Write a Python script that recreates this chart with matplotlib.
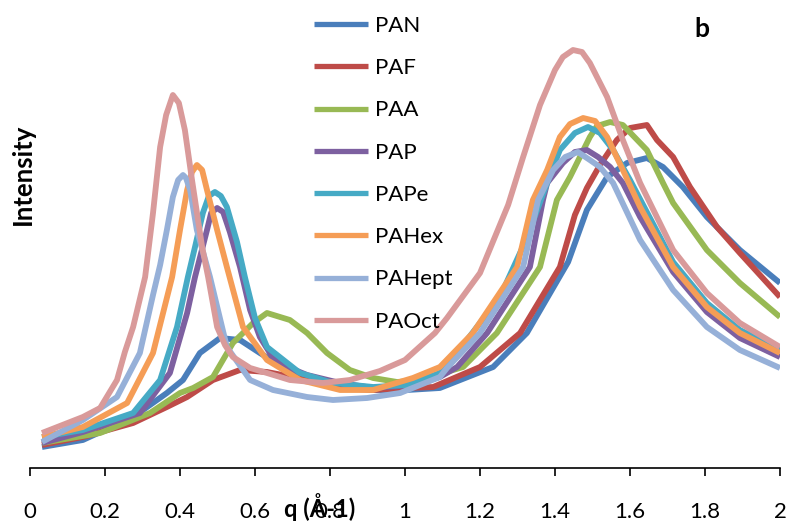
import matplotlib
matplotlib.use("Agg")
import matplotlib.pyplot as plt

plt.rcParams['font.family'] = ['Lato', 'DejaVu Sans']

series_names = ["PAN", "PAF", "PAA", "PAP", "PAPe", "PAHex", "PAHept", "PAOct"]
series_colors = ["#4A7EBB", "#BE4B48", "#98B954", "#7D60A0", "#46AAC5", "#F59D56", "#96B0D8", "#D99A9A"]

q_PAN = [0.032, 0.141, 0.275, 0.365, 0.408, 0.453, 0.507, 0.56, 0.613, 0.675, 0.739, 0.827, 0.915, 1.005,
         1.093, 1.235, 1.325, 1.435, 1.485, 1.539, 1.592, 1.645, 1.688, 1.741, 1.805, 1.893, 2.0]
I_PAN = [21, 28, 51, 75, 88, 115, 130, 128, 115, 101, 91, 81, 78, 78,
         80, 101, 135, 206, 258, 291, 305, 310, 301, 281, 251, 218, 185]

q_PAF = [0.032, 0.141, 0.275, 0.365, 0.419, 0.488, 0.56, 0.632, 0.701, 0.827, 0.915, 1.005, 1.075, 1.2,
         1.307, 1.413, 1.453, 1.485, 1.52, 1.565, 1.6, 1.645, 1.672, 1.715, 1.76, 1.832, 1.893, 2.0]
I_PAF = [23, 31, 45, 61, 71, 88, 98, 96, 91, 80, 78, 80, 81, 101,
         135, 201, 253, 280, 303, 328, 340, 343, 328, 311, 281, 241, 215, 171]

q_PAA = [0.032, 0.187, 0.32, 0.4, 0.435, 0.488, 0.541, 0.595, 0.632, 0.693, 0.739, 0.792, 0.853, 0.915,
         0.979, 1.04, 1.093, 1.155, 1.245, 1.36, 1.405, 1.44, 1.493, 1.512, 1.547, 1.581, 1.645, 1.688, 1.715,
         1.805, 1.893, 2.0]
I_PAA = [25, 35, 55, 75, 80, 91, 125, 145, 155, 148, 135, 115, 98, 90,
         86, 88, 94, 101, 135, 201, 268, 291, 331, 342, 346, 343, 318, 285, 265,
         218, 185, 151]

q_PAP = [0.032, 0.141, 0.293, 0.373, 0.419, 0.44, 0.472, 0.483, 0.499, 0.515, 0.533, 0.56, 0.587, 0.613,
         0.648, 0.693, 0.739, 0.827, 0.915, 1.021, 1.093, 1.139, 1.219, 1.333, 1.368, 1.379, 1.421, 1.453,
         1.485, 1.515, 1.547, 1.581, 1.627, 1.715, 1.805, 1.893, 2.0]
I_PAP = [25, 36, 55, 95, 155, 191, 238, 255, 260, 256, 236, 201, 158, 131,
         110, 100, 93, 85, 80, 83, 91, 101, 135, 201, 268, 285, 305, 316,
         318, 311, 301, 285, 251, 196, 156, 130, 111]

q_PAPe = [0.032, 0.141, 0.275, 0.347, 0.392, 0.421, 0.44, 0.461, 0.477, 0.493, 0.509, 0.525, 0.552, 0.573,
          0.6, 0.632, 0.72, 0.808, 0.915, 1.005, 1.093, 1.155, 1.253, 1.325, 1.379, 1.413, 1.453, 1.488,
          1.52, 1.555, 1.6, 1.635, 1.715, 1.805, 1.893, 2.0]
I_PAPe = [31, 38, 55, 88, 141, 191, 221, 255, 272, 276, 272, 261, 226, 191,
          150, 121, 95, 85, 81, 83, 95, 123, 171, 230, 285, 318, 335, 341,
          335, 318, 288, 263, 206, 165, 138, 118]

q_PAHex = [0.032, 0.141, 0.259, 0.328, 0.379, 0.4, 0.419, 0.432, 0.445, 0.459, 0.472, 0.499, 0.525, 0.568,
           0.632, 0.72, 0.827, 0.915, 1.021, 1.093, 1.181, 1.299, 1.341, 1.379, 1.413, 1.44, 1.475, 1.507,
           1.539, 1.581, 1.627, 1.715, 1.805, 1.893, 2.0]
I_PAHex = [31, 41, 65, 115, 191, 238, 278, 296, 303, 298, 278, 238, 201, 141,
           108, 88, 78, 78, 90, 101, 135, 201, 268, 298, 331, 344, 350, 347,
           331, 298, 261, 201, 161, 135, 115]

q_PAHept = [0.032, 0.141, 0.232, 0.293, 0.328, 0.347, 0.365, 0.381, 0.395, 0.408, 0.416, 0.427, 0.445, 0.48,
            0.525, 0.587, 0.648, 0.739, 0.808, 0.899, 0.987, 1.093, 1.112, 1.2, 1.315, 1.355, 1.395, 1.427,
            1.461, 1.493, 1.52, 1.555, 1.627, 1.715, 1.805, 1.893, 2.0]
I_PAHept = [26, 48, 71, 115, 173, 203, 238, 271, 288, 293, 290, 278, 238, 191,
            121, 88, 78, 71, 68, 70, 75, 91, 100, 135, 201, 268, 298, 311,
            316, 308, 301, 285, 228, 178, 141, 118, 100]

q_PAOct = [0.032, 0.141, 0.187, 0.232, 0.253, 0.275, 0.307, 0.328, 0.347, 0.363, 0.381, 0.397, 0.413, 0.432,
           0.459, 0.475, 0.499, 0.52, 0.541, 0.587, 0.632, 0.693, 0.781, 0.853, 0.933, 1.0, 1.08, 1.112,
           1.2, 1.275, 1.315, 1.36, 1.4, 1.421, 1.448, 1.472, 1.493, 1.539, 1.581, 1.627, 1.715, 1.805,
           1.893, 2.0]
I_PAOct = [35, 51, 60, 88, 116, 141, 191, 255, 321, 353, 373, 365, 338, 288,
           221, 191, 141, 123, 111, 100, 95, 88, 85, 88, 97, 108, 135, 150,
           195, 263, 311, 363, 398, 411, 418, 416, 405, 371, 328, 285, 218, 175,
           145, 121]

x_ticks = [0, 0.2, 0.4, 0.6, 0.8, 1, 1.2, 1.4, 1.6, 1.8, 2]
x_tick_labels = ["0", "0.2", "0.4", "0.6", "0.8", "1", "1.2", "1.4", "1.6", "1.8", "2"]

all_q = [q_PAN, q_PAF, q_PAA, q_PAP, q_PAPe, q_PAHex, q_PAHept, q_PAOct]
all_I = [I_PAN, I_PAF, I_PAA, I_PAP, I_PAPe, I_PAHex, I_PAHept, I_PAOct]

W, H = 787, 522
fig = plt.figure(figsize=(W / 100, H / 100), dpi=100)
ax = fig.add_axes([30 / W, (H - 468) / H, 750 / W, 468 / H])

for qv, iv, name, col in zip(all_q, all_I, series_names, series_colors):
    ax.plot(qv, iv, color=col, lw=4.2, label=name, solid_joinstyle='round', solid_capstyle='butt')

ax.set_xlim(0, 2)
ax.set_ylim(0, 468)
for s in ['left', 'top', 'right']:
    ax.spines[s].set_visible(False)
ax.spines['bottom'].set_linewidth(1.2)
ax.set_yticks([])
ax.set_xticks(x_ticks)
ax.set_xticklabels(x_tick_labels)
ax.tick_params(axis='x', direction='out', length=5.5, width=1.2, pad=19, labelsize=16)

leg = ax.legend(loc='upper left', bbox_to_anchor=(314 / W, 1 - 16 / H), bbox_transform=fig.transFigure,
                frameon=False, fontsize=16, handlelength=2.45, handletextpad=0.3,
                labelspacing=1.0, borderpad=0, borderaxespad=0)
for line in leg.get_lines():
    line.set_linewidth(3.8)

fig.text(320 / W, 1 - 507 / H, "q (Å-1)", ha='center', va='center', fontsize=17, fontweight='bold')
fig.text(23 / W, 1 - 174 / H, "Intensity", ha='center', va='center', rotation=90, fontsize=18.5, fontweight='bold')
fig.text(702 / W, 1 - 29 / H, "b", ha='center', va='center', fontsize=19, fontweight='bold')

fig.savefig("out.png", dpi=100)
